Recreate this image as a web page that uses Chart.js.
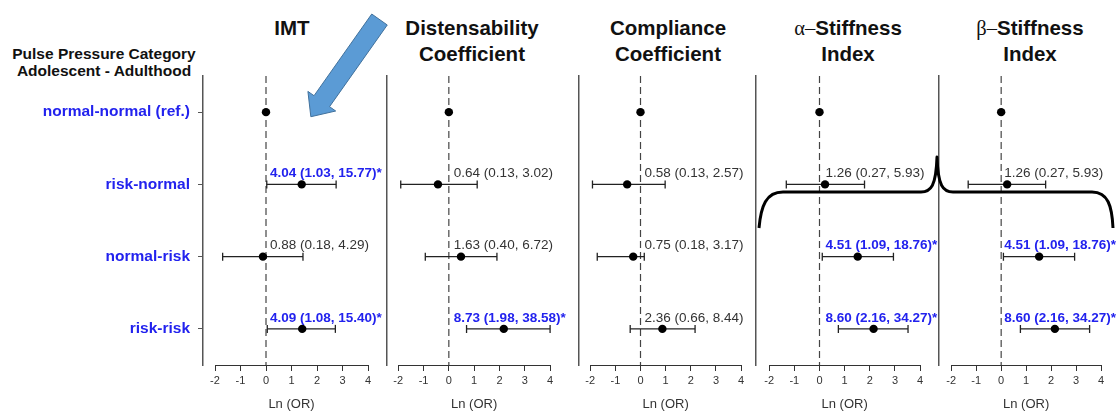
<!DOCTYPE html>
<html><head><meta charset="utf-8">
<script src="https://cdn.jsdelivr.net/npm/chart.js@4.4.1/dist/chart.umd.min.js"></script>
<style>
html,body{margin:0;padding:0;background:#fff;width:1116px;height:412px;overflow:hidden;font-family:"Liberation Sans",Arial,sans-serif;}
#wrap{position:relative;width:1116px;height:412px;overflow:hidden;}
.pan{position:absolute;top:0;}
.ttl{position:absolute;top:15px;width:220px;text-align:center;font-weight:bold;font-size:20.5px;line-height:26px;color:#111;white-space:nowrap;}
.g{font-family:"Liberation Serif","DejaVu Serif",serif;font-weight:normal;}
#hdr{position:absolute;left:0;width:208px;top:45px;text-align:center;font-weight:bold;font-size:15.5px;line-height:17px;color:#111;white-space:nowrap;}
#ov{position:absolute;left:0;top:0;pointer-events:none;z-index:5;}
</style></head><body>
<div id="wrap">
  <div id="hdr">Pulse Pressure Category<br>Adolescent - Adulthood</div>
  <div class="ttl" id="t0">IMT</div>
  <div class="ttl" id="t1">Distensability<br>Coefficient</div>
  <div class="ttl" id="t2">Compliance<br>Coefficient</div>
  <div class="ttl" id="t3"><span class="g">α–</span>Stiffness<br>Index</div>
  <div class="ttl" id="t4"><span class="g">β–</span>Stiffness<br>Index</div>
  <canvas id="ov" width="1116" height="412"></canvas>
</div>
<script>
// ---------- data ----------
const rowLabels = ['normal-normal (ref.)', 'risk-normal', 'normal-risk', 'risk-risk'];
const xTicks = [-2, -1, 0, 1, 2, 3, 4];

// ln(OR) point estimates and CI limits as drawn, per row
const imtEst   = [0, 1.40, -0.12, 1.42];
const imtLow   = [null, 0.03, -1.70, 0.05];
const imtHigh  = [null, 2.75, 1.45, 2.72];
const imtLabel = [null, '4.04 (1.03, 15.77)*', '0.88 (0.18, 4.29)', '4.09 (1.08, 15.40)*'];

const distEst   = [0, -0.43, 0.48, 2.17];
const distLow   = [null, -1.90, -0.93, 0.70];
const distHigh  = [null, 1.12, 1.90, 4.00];
const distLabel = [null, '0.64 (0.13, 3.02)', '1.63 (0.40, 6.72)', '8.73 (1.98, 38.58)*'];

const compEst   = [0, -0.53, -0.29, 0.87];
const compLow   = [null, -1.91, -1.72, -0.41];
const compHigh  = [null, 0.98, 0.15, 2.17];
const compLabel = [null, '0.58 (0.13, 2.57)', '0.75 (0.18, 3.17)', '2.36 (0.66, 8.44)'];

const alphaEst   = [0, 0.22, 1.52, 2.15];
const alphaLow   = [null, -1.32, 0.11, 0.75];
const alphaHigh  = [null, 1.79, 2.94, 3.52];
const alphaLabel = [null, '1.26 (0.27, 5.93)', '4.51 (1.09, 18.76)*', '8.60 (2.16, 34.27)*'];

const betaEst   = [0, 0.24, 1.52, 2.15];
const betaLow   = [null, -1.32, 0.09, 0.77];
const betaHigh  = [null, 1.78, 2.94, 3.54];
const betaLabel = [null, '1.26 (0.27, 5.93)', '4.51 (1.09, 18.76)*', '8.60 (2.16, 34.27)*'];

const refValue = 0;

// ---------- layout ----------
const SEP = [203, 385, 577, 754, 937];
const X_M2 = [215, 397, 589, 768, 950];
const X_P4 = [368, 550, 741, 920, 1101];
const LABEL_DX = [4, 5, 4, 6, 3];
const TITLE_CX = [292, 472, 668, 848, 1030];
const AREA_TOP = 76, AREA_BOTTOM = 365, H = 412, PAD_R = 40;
const BLUE = '#2222EE';
const FONT = '"Liberation Sans", Arial, sans-serif';
Chart.defaults.font.family = FONT;

const panels = [
  [imtEst, imtLow, imtHigh, imtLabel],
  [distEst, distLow, distHigh, distLabel],
  [compEst, compLow, compHigh, compLabel],
  [alphaEst, alphaLow, alphaHigh, alphaLabel],
  [betaEst, betaLow, betaHigh, betaLabel]
];

TITLE_CX.forEach((cx, i) => { document.getElementById('t' + i).style.left = (cx - 110) + 'px'; });

const wrap = document.getElementById('wrap');

panels.forEach((p, i) => {
  const [est, low, high, lab] = p;
  const k = (X_P4[i] - X_M2[i]) / 6;
  const C = (X_M2[i] + X_P4[i]) / 2;
  const areaRight = 2 * C - SEP[i];
  const canvasLeft = i === 0 ? 0 : SEP[i] - 4;
  const yW = SEP[i] - canvasLeft;
  const cw = Math.round(areaRight - canvasLeft + PAD_R);
  const xmin = -2 - (X_M2[i] - SEP[i]) / k;
  const xmax = 4 + (areaRight - X_P4[i]) / k;

  const div = document.createElement('div');
  div.className = 'pan';
  div.style.left = canvasLeft + 'px';
  const cv = document.createElement('canvas');
  cv.width = cw; cv.height = H;
  div.appendChild(cv);
  wrap.insertBefore(div, document.getElementById('ov'));

  const datasets = [];
  datasets.push({
    data: est.map((v, r) => ({x: v, y: r})),
    showLine: false, pointRadius: 4.2, pointBackgroundColor: '#000', pointBorderColor: '#000',
    pointBorderWidth: 0, order: 0
  });
  est.forEach((v, r) => {
    if (low[r] === null) return;
    datasets.push({
      data: [{x: low[r], y: r}, {x: high[r], y: r}],
      showLine: true, borderColor: '#222', borderWidth: 1.3,
      pointStyle: 'line', pointRotation: 90, pointRadius: 4,
      pointBorderColor: '#222', pointBorderWidth: 1.3, order: 1
    });
  });
  datasets.push({
    data: [{x: refValue, y: -0.5}, {x: refValue, y: 3.5}],
    showLine: true, borderColor: '#444', borderWidth: 1.2, borderDash: [7, 4],
    pointRadius: 0, order: 3
  });

  const first = i === 0;
  new Chart(cv, {
    type: 'scatter',
    data: {datasets},
    options: {
      responsive: false, animation: false, events: [],
      layout: {padding: {top: AREA_TOP, left: 0, right: PAD_R, bottom: 0}},
      plugins: {legend: {display: false}, tooltip: {enabled: false}, title: {display: false}},
      scales: {
        x: {
          type: 'linear', position: 'bottom', min: xmin, max: xmax,
          afterBuildTicks: s => { s.ticks = xTicks.map(v => ({value: v})); },
          afterFit: s => { s.height = H - AREA_BOTTOM; },
          ticks: {color: '#333', font: {size: 11}, padding: 3, callback: v => String(v)},
          grid: {display: true, drawOnChartArea: false, drawTicks: true, tickLength: 6, tickColor: '#333', tickWidth: 1},
          border: {display: false},
          title: {display: true, text: 'Ln (OR)', color: '#333', font: {size: 13}, padding: {top: 0, bottom: 0}}
        },
        y: {
          type: 'linear', position: 'left', reverse: true, min: -0.5, max: 3.5,
          afterBuildTicks: s => { s.ticks = rowLabels.map((_, r) => ({value: r})); },
          afterFit: s => { s.width = yW; },
          ticks: {display: first, color: BLUE, font: {size: 15.5, weight: 'bold'}, padding: 8,
                  callback: v => rowLabels[v]},
          grid: {display: first, drawOnChartArea: false, drawTicks: true, tickLength: 5, tickColor: '#555', tickWidth: 1},
          border: {display: true, color: '#555', width: 1.5}
        }
      }
    },
    plugins: [{
      id: 'extras' + i,
      afterDraw(chart) {
        const ctx = chart.ctx, xs = chart.scales.x, ys = chart.scales.y;
        const yb = chart.chartArea.bottom + 0.5;
        ctx.save();
        ctx.strokeStyle = '#333'; ctx.lineWidth = 1;
        ctx.beginPath();
        ctx.moveTo(xs.getPixelForValue(xTicks[0]), yb);
        ctx.lineTo(xs.getPixelForValue(xTicks[xTicks.length - 1]), yb);
        ctx.stroke();
        ctx.textBaseline = 'middle'; ctx.textAlign = 'left';
        lab.forEach((t, r) => {
          if (!t) return;
          const sig = t.endsWith('*');
          ctx.font = (sig ? 'bold ' : '') + '13.5px ' + FONT;
          ctx.fillStyle = sig ? BLUE : '#333';
          ctx.fillText(t, xs.getPixelForValue(refValue) + LABEL_DX[i], ys.getPixelForValue(r) - 11);
        });
        ctx.restore();
      }
    }]
  });
});

// ---------- annotations: arrow and brace ----------
const ov = document.getElementById('ov').getContext('2d');
(function arrow() {
  const T = [379.5, 19.5], u = [-0.577, 0.817], n = [0.817, 0.577];
  const w = 9.5, hb = 100, hw = 17, tip = 119;
  const P = (a, b) => [T[0] + a * u[0] + b * n[0], T[1] + a * u[1] + b * n[1]];
  const pts = [P(0, w), P(0, -w), P(hb, -w), P(hb, -hw), P(tip, 0), P(hb, hw), P(hb, w)];
  ov.beginPath();
  pts.forEach((q, j) => j ? ov.lineTo(q[0], q[1]) : ov.moveTo(q[0], q[1]));
  ov.closePath();
  ov.fillStyle = '#5B9BD5'; ov.fill();
  ov.strokeStyle = '#41719C'; ov.lineWidth = 1; ov.stroke();
})();
(function brace() {
  ov.beginPath();
  ov.moveTo(759, 228);
  ov.bezierCurveTo(761, 206, 766, 192, 783, 192);
  ov.lineTo(921, 192);
  ov.bezierCurveTo(931, 192, 936, 186, 937, 157);
  ov.bezierCurveTo(938, 186, 943, 192, 953, 192);
  ov.lineTo(1092, 192);
  ov.bezierCurveTo(1108, 192, 1112, 206, 1113, 228);
  ov.strokeStyle = '#000'; ov.lineWidth = 3; ov.lineJoin = 'round'; ov.stroke();
})();
</script>
</body></html>
